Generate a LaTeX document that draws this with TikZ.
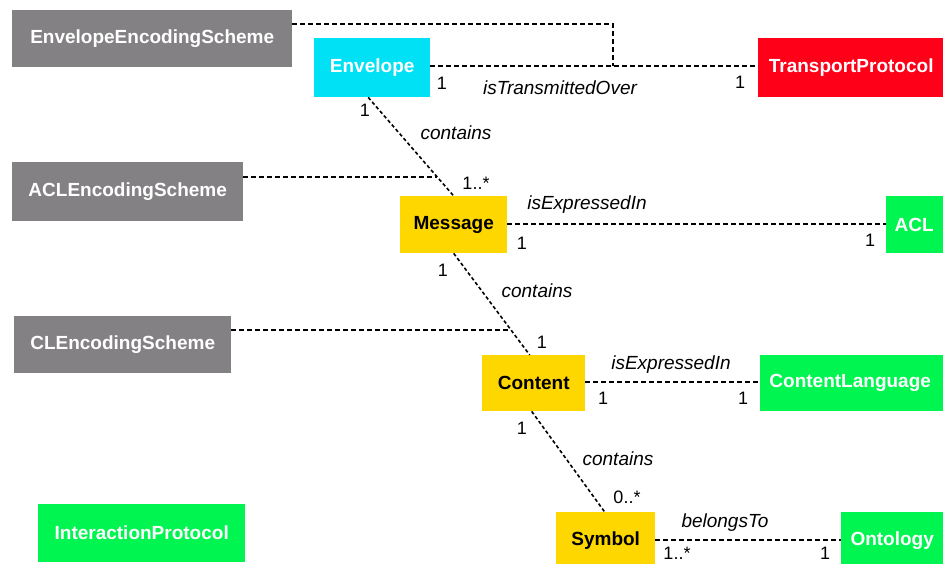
\documentclass[tikz,border=0pt]{standalone}
\usepackage{fontspec}
\setmainfont{Liberation Sans}
\definecolor{cgray}{HTML}{838183}
\definecolor{ccyan}{HTML}{00E1F5}
\definecolor{cred}{HTML}{FF0019}
\definecolor{cyel}{HTML}{FFD700}
\definecolor{cgreen}{HTML}{00F550}
\begin{document}
\begin{tikzpicture}[x=1pt,y=-1pt,
  box/.style={rectangle, inner sep=0pt, anchor=north west, font=\fontsize{19}{21}\selectfont\bfseries},
  wbox/.style={box, text=white},
  assoc/.style={line width=1.5pt, dash pattern=on 5pt off 3pt},
  diag/.style={line width=1.6pt, dash pattern=on 3.5pt off 2.5pt},
  lab/.style={font=\fontsize{19}{21}\selectfont\itshape, inner sep=0pt},
  mult/.style={font=\fontsize{18}{20}\selectfont, inner sep=0pt}]
\useasboundingbox (0,0) rectangle (943,564);
\fill[white] (0,0) rectangle (943,564);
% boxes
\node[wbox, fill=cgray, minimum width=280pt, minimum height=57pt] (ees) at (12,10) {EnvelopeEncodingScheme};
\node[wbox, fill=ccyan, minimum width=116pt, minimum height=59pt] (env) at (314,38) {Envelope};
\node[wbox, fill=cred, minimum width=190pt, minimum height=59pt] (tp) at (758,38) {\hspace*{-4pt}TransportProtocol};
\node[wbox, fill=cgray, minimum width=231pt, minimum height=59pt] (acles) at (12,162) {ACLEncodingScheme};
\node[box, fill=cyel, minimum width=107pt, minimum height=57pt] (msg) at (400,196) {Message};
\node[wbox, fill=cgreen, minimum width=62pt, minimum height=57pt] (acl) at (886,196) {\hspace*{-6pt}ACL};
\node[wbox, fill=cgray, minimum width=217pt, minimum height=57pt] (cles) at (14,316) {CLEncodingScheme};
\node[box, fill=cyel, minimum width=103pt, minimum height=56pt] (cnt) at (482,355) {Content};
\node[wbox, fill=cgreen, minimum width=190pt, minimum height=56pt] (cl) at (760,355) {\hspace*{-10pt}ContentLanguage};
\node[box, fill=cyel, minimum width=99pt, minimum height=56pt] (sym) at (556,512) {Symbol};
\node[wbox, fill=cgreen, minimum width=110pt, minimum height=56pt] (ont) at (841,512) {\hspace*{-8pt}Ontology};
\node[wbox, fill=cgreen, minimum width=207pt, minimum height=58pt] (ip) at (38,504) {InteractionProtocol};
% junction coordinates
\coordinate (j1) at (613,66);
\coordinate (j2) at (437,177);
\coordinate (j3) at (511,330);
% connectors
\draw[assoc] (env.east |- j1) -- (tp.west |- j1);
\draw[assoc] (ees.east |- 0,24) -| (j1);
\draw[diag] ([xshift=-4pt]env.south) -- (msg.north);
\draw[assoc] (acles.east |- j2) -- (j2);
\draw[assoc] (msg.east |- 0,224) -- (acl.west |- 0,224);
\draw[diag] (msg.south) -- ([xshift=-4pt]cnt.north);
\draw[assoc] (cles.east |- j3) -- (j3);
\draw[assoc] (cnt.east |- 0,382) -- (cl.west |- 0,382);
\draw[diag] ([xshift=-2pt]cnt.south) -- ([xshift=-1pt]sym.north);
\draw[assoc] (sym.east |- 0,540) -- (ont.west |- 0,540);
% labels
\node[mult] (m1) at (442,83) {1};
\node[lab] (l1) at (560,88) {isTransmittedOver};
\node[mult] (m2) at (740,82) {1};
\node[mult] (m3) at (365,110) {1};
\node[lab] (l2) at (456,133) {contains};
\node[mult] (m4) at (476,183) {1..*};
\node[lab] (l3) at (587,205) {isExpressedIn};
\node[mult] (m5) at (522,243) {1};
\node[mult] (m6) at (870,240) {1};
\node[mult] (m7) at (443,270) {1};
\node[lab] (l4) at (537,291) {contains};
\node[mult] (m8) at (542,342) {1};
\node[lab] (l5) at (671,365) {isExpressedIn};
\node[mult] (m9) at (603,398) {1};
\node[mult] (m10) at (743,398) {1};
\node[mult] (m11) at (522,428) {1};
\node[lab] (l6) at (618,459) {contains};
\node[mult] (m12) at (627,497) {0..*};
\node[lab] (l7) at (725,523) {belongsTo};
\node[mult] (m13) at (677,553) {1..*};
\node[mult] (m14) at (825,553) {1};
\end{tikzpicture}
\end{document}
